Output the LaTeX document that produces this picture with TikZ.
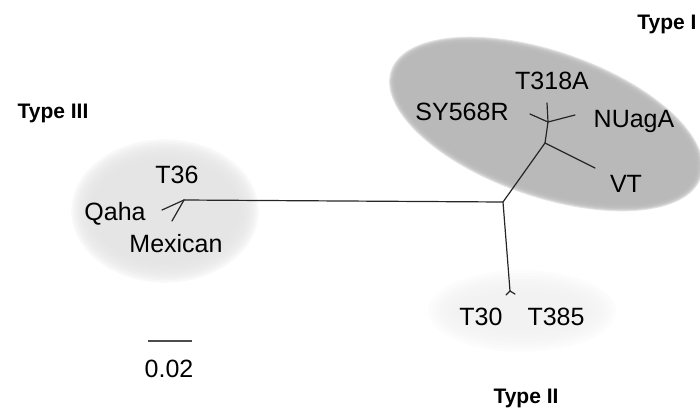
\documentclass[tikz,border=0pt]{standalone}
\usepackage{fontspec}
\setmainfont{Liberation Sans}

\begin{document}
\begin{tikzpicture}[x=1pt,y=-1pt,
    branch/.style={draw=black!85, line width=1.2pt, line cap=round, line join=round},
    taxon/.style={anchor=base, inner sep=0pt, text=black, font=\fontsize{25}{30}\selectfont},
    group/.style={anchor=base, inner sep=0pt, text=black, font=\bfseries\fontsize{21}{25}\selectfont},
  ]
  \useasboundingbox (0,0) rectangle (700,410);

  % cluster backgrounds, soft edged
  \coordinate (clI) at (546,124);
  \coordinate (clII) at (522,311);
  \coordinate (clIII) at (165,211);
  \foreach \k in {0,...,7}
    \fill[gray!56, opacity=0.4, rotate around={-19:(clI)}]
      (clI) ellipse [x radius={(157+\k)*1pt}, y radius={(66+\k)*1pt}];
  \foreach \k in {0,...,9}
    \fill[gray!22, opacity=0.25]
      (clIII) ellipse [x radius={(72+2.4*\k)*1pt}, y radius={(50+2.4*\k)*1pt}];
  \foreach \k in {0,...,9}
    \fill[gray!12, opacity=0.2]
      (clII) ellipse [x radius={(58+4*\k)*1pt}, y radius={(14+3*\k)*1pt}];

  % tree
  \coordinate (root) at (503,202);
  \coordinate (nIII) at (184,200);
  \coordinate (nI) at (545,143);
  \coordinate (nIa) at (548,122);
  \coordinate (nII) at (510,291);

  \coordinate (lT318A) at (547,103);
  \coordinate (lSY) at (530,114);
  \coordinate (lNU) at (575,115);
  \coordinate (lVT) at (595,168);
  \coordinate (lT30) at (506,295);
  \coordinate (lT385) at (515,294);
  \coordinate (lQaha) at (162,210);
  \coordinate (lMex) at (172,221);

  \draw[branch] (nIII) -- (root) -- (nI) -- (nIa);
  \draw[branch] (nI) -- (lVT);
  \draw[branch] (nIa) -- (lT318A);
  \draw[branch] (nIa) -- (lSY);
  \draw[branch] (nIa) -- (lNU);
  \draw[branch] (root) -- (nII);
  \draw[branch] (nII) -- (lT30);
  \draw[branch] (nII) -- (lT385);
  \draw[branch] (nIII) -- (lQaha);
  \draw[branch] (nIII) -- (lMex);

  % leaf labels
  \node[taxon] (tT318A) at (552,89) {T318A};
  \node[taxon] (tSY) at (462,120) {SY568R};
  \node[taxon] (tNU) at (634,127) {NUagA};
  \node[taxon] (tVT) at (626,192) {VT};
  \node[taxon] (tT36) at (177,183) {T36};
  \node[taxon] (tQaha) at (115,220) {Qaha};
  \node[taxon] (tMex) at (176,252) {Mexican};
  \node[taxon] (tT30) at (481,325) {T30};
  \node[taxon] (tT385) at (556,325) {T385};

  % group names
  \node[group] (gI) at (667,29) {Type I};
  \node[group] (gII) at (526,403) {Type II};
  \node[group] (gIII) at (53,118) {Type III};

  % scale bar
  \coordinate (sbL) at (148,341);
  \coordinate (sbR) at (192,341);
  \draw[line width=1.8pt, black!70] (sbL) -- (sbR);
  \node[taxon] (scale) at (169,377) {0.02};
\end{tikzpicture}
\end{document}
